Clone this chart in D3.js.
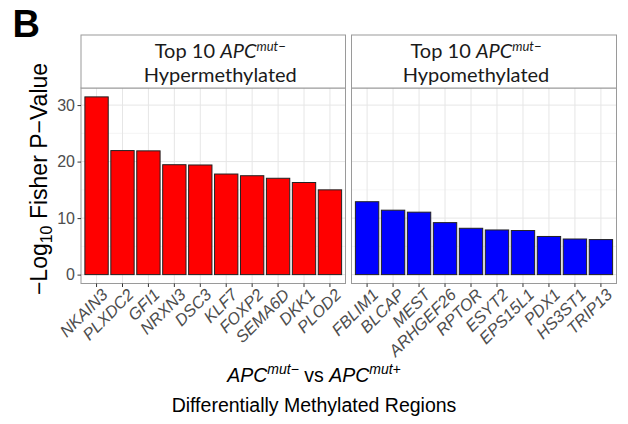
<!DOCTYPE html>
<html>
<head>
<meta charset="utf-8">
<script src="https://cdn.jsdelivr.net/npm/d3@7"></script>
<style>
  body { margin: 0; background: #fff; }
  svg { display: block; }
</style>
</head>
<body>
<svg id="chart" width="628" height="424"></svg>
<script>
// data
const hyperGenes = ["NKAIN3", "PLXDC2", "GFI1", "NRXN3", "DSC3", "KLF7", "FOXP2", "SEMA6D", "DKK1", "PLOD2"];
const hyperValues = [31.45, 21.95, 21.9, 19.45, 19.4, 17.8, 17.5, 17.05, 16.3, 15.0];
const hypoGenes = ["FBLIM1", "BLCAP", "MEST", "ARHGEF26", "RPTOR", "ESYT2", "EPS15L1", "PDX1", "HS3ST1", "TRIP13"];
const hypoValues = [12.9, 11.4, 11.05, 9.2, 8.2, 7.9, 7.8, 6.75, 6.3, 6.2];
const panelTitles = ["Hypermethylated", "Hypomethylated"];
const yTicks = [0, 10, 20, 30];
const yMinor = [5, 15, 25];

const svg = d3.select('#chart');
const sans = "'Liberation Sans', Arial, sans-serif";
const stripFont = "Lato, 'Open Sans', sans-serif";

// layout
const stripTop = 35, stripBottom = 88, panelBottom = 283.5;
const panels = [
  { x0: 81, x1: 345.5, genes: hyperGenes, values: hyperValues, fill: '#ff0000', title: panelTitles[0], textShift: 7 },
  { x0: 351.5, x1: 616.5, genes: hypoGenes, values: hypoValues, fill: '#0000ff', title: panelTitles[1], textShift: -8 }
];

// shared y scale, ggplot style 5% expansion
const yMax = d3.max(hyperValues.concat(hypoValues));
const pad = yMax * 0.05;
const y = d3.scaleLinear()
  .domain([-pad, yMax + pad])
  .range([panelBottom, stripBottom]);

panels.forEach((p, pi) => {
  const g = svg.append('g');
  const x = d3.scaleBand()
    .domain(p.genes)
    .range([p.x0, p.x1])
    .paddingInner(0.1)
    .paddingOuter(0.15);

  // grid
  g.selectAll('.minor')
    .data(yMinor)
    .enter().append('line')
    .attr('x1', p.x0).attr('x2', p.x1)
    .attr('y1', d => y(d)).attr('y2', d => y(d))
    .attr('stroke', '#f0f0f0').attr('stroke-width', 0.7);
  g.selectAll('.major')
    .data(yTicks)
    .enter().append('line')
    .attr('x1', p.x0).attr('x2', p.x1)
    .attr('y1', d => y(d)).attr('y2', d => y(d))
    .attr('stroke', '#e6e6e6').attr('stroke-width', 1);
  g.selectAll('.vgrid')
    .data(p.genes)
    .enter().append('line')
    .attr('x1', d => x(d) + x.bandwidth() / 2).attr('x2', d => x(d) + x.bandwidth() / 2)
    .attr('y1', stripBottom).attr('y2', panelBottom)
    .attr('stroke', '#e6e6e6').attr('stroke-width', 1);

  // bars
  g.selectAll('.bar')
    .data(p.genes.map((gname, i) => ({ gene: gname, value: p.values[i] })))
    .enter().append('rect')
    .attr('x', d => x(d.gene))
    .attr('width', x.bandwidth())
    .attr('y', d => y(d.value))
    .attr('height', d => y(0) - y(d.value))
    .attr('fill', p.fill)
    .attr('stroke', '#222')
    .attr('stroke-width', 1);

  // panel + strip borders
  g.append('rect')
    .attr('x', p.x0).attr('y', stripBottom)
    .attr('width', p.x1 - p.x0).attr('height', panelBottom - stripBottom)
    .attr('fill', 'none').attr('stroke', '#9a9a9a').attr('stroke-width', 1);
  g.append('rect')
    .attr('x', p.x0).attr('y', stripTop)
    .attr('width', p.x1 - p.x0).attr('height', stripBottom - stripTop)
    .attr('fill', '#fff').attr('stroke', '#9a9a9a').attr('stroke-width', 1);

  // strip text
  const cx = (p.x0 + p.x1) / 2 + p.textShift;
  const t1 = g.append('text')
    .attr('x', cx).attr('y', 57.5)
    .attr('text-anchor', 'middle')
    .style('font-family', stripFont).style('font-size', '20px').attr('fill', '#1a1a1a');
  t1.append('tspan').text('Top 10 ');
  t1.append('tspan').style('font-style', 'italic').text('APC');
  t1.append('tspan').style('font-style', 'italic').style('font-size', '13px')
    .attr('dy', -7).text('mut\u2212');
  g.append('text')
    .attr('x', cx).attr('y', 82)
    .attr('text-anchor', 'middle')
    .style('font-family', stripFont).style('font-size', '20px').attr('fill', '#1a1a1a')
    .text(p.title);

  // x axis ticks + labels
  const xAxis = g.append('g').attr('transform', `translate(0,${panelBottom})`);
  xAxis.selectAll('line')
    .data(p.genes)
    .enter().append('line')
    .attr('x1', d => x(d) + x.bandwidth() / 2).attr('x2', d => x(d) + x.bandwidth() / 2)
    .attr('y1', 0).attr('y2', 3.5)
    .attr('stroke', '#333').attr('stroke-width', 1);
  xAxis.selectAll('text')
    .data(p.genes)
    .enter().append('text')
    .attr('transform', d => `translate(${x(d) + x.bandwidth() / 2 + 4},4) rotate(-45)`)
    .attr('text-anchor', 'end')
    .attr('dy', '0.71em')
    .style('font-family', sans).style('font-size', '16.5px').style('font-style', 'italic')
    .attr('fill', '#4d4d4d')
    .text(d => d);

  // y axis only on the first panel
  if (pi === 0) {
    const yAxis = g.append('g').attr('transform', `translate(${p.x0},0)`)
      .call(d3.axisLeft(y).tickValues(yTicks).tickSize(3.5).tickPadding(2.5).tickFormat(d3.format('d')));
    yAxis.select('.domain').remove();
    yAxis.selectAll('line').attr('stroke', '#333');
    yAxis.selectAll('text')
      .style('font-family', sans).style('font-size', '16px').attr('fill', '#4d4d4d');
  }
});

// y title
const yt = svg.append('text')
  .attr('transform', 'translate(47,179) rotate(-90)')
  .attr('text-anchor', 'middle')
  .style('font-family', sans).style('font-size', '23px').attr('fill', '#000');
yt.append('tspan').text('\u2212Log');
yt.append('tspan').style('font-size', '16px').attr('dy', 5).text('10');
yt.append('tspan').attr('dy', -5).text(' Fisher P\u2212Value');

// x title
const xt = svg.append('text')
  .attr('x', 314).attr('y', 381.5)
  .attr('text-anchor', 'middle')
  .style('font-family', sans).style('font-size', '19.5px').attr('fill', '#000');
xt.append('tspan').style('font-style', 'italic').text('APC');
xt.append('tspan').style('font-style', 'italic').style('font-size', '14px').attr('dy', -8).text('mut\u2212');
xt.append('tspan').attr('dy', 8).text(' vs ');
xt.append('tspan').style('font-style', 'italic').text('APC');
xt.append('tspan').style('font-style', 'italic').style('font-size', '14px').attr('dy', -8).text('mut+');
svg.append('text')
  .attr('x', 314).attr('y', 411.5)
  .attr('text-anchor', 'middle')
  .style('font-family', sans).style('font-size', '19.5px').attr('fill', '#000')
  .text('Differentially Methylated Regions');

// panel letter
svg.append('text')
  .attr('x', 12.5).attr('y', 37)
  .style('font-family', sans).style('font-size', '38px').style('font-weight', 'bold')
  .attr('fill', '#000')
  .text('B');
</script>
</body>
</html>
